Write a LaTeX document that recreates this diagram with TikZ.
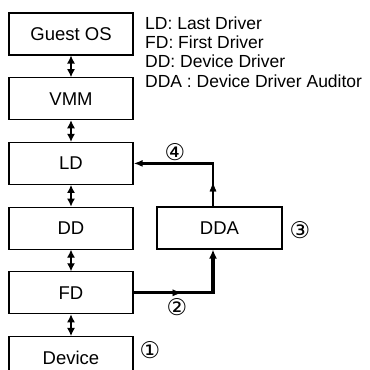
\documentclass[tikz,border=0pt]{standalone}
\usepackage{fontspec}
\setmainfont{Liberation Sans}
\newfontfamily\circfont{DejaVu Sans}
\usetikzlibrary{positioning,arrows.meta,decorations.markings}
\begin{document}
\begin{tikzpicture}[x=1pt,y=-1pt,node distance=21.6pt,
  layer/.style={draw,line width=1.1pt,minimum width=124pt,minimum height=42pt,font=\fontsize{18.5}{20}\selectfont},
  link/.style={{Latex[length=8pt,width=8pt]}-{Latex[length=8pt,width=8pt]},line width=1.2pt},
  midtip/.style={decoration={markings,mark=at position #1 with {\arrow{Latex[length=9pt,width=7pt]}}},decorate},
  key/.style={anchor=base west,inner sep=0pt,font=\fontsize{17.5}{19}\selectfont},
  num/.style={inner sep=0pt,font=\circfont\fontsize{23}{23}\selectfont}]
\useasboundingbox (0,0) rectangle (370,370);
% layer stack
\node[layer] (guest) at (71,34) {Guest OS};
\node[layer,below=of guest] (vmm) {VMM};
\node[layer,below=of vmm] (ld) {LD};
\node[layer,below=of ld] (dd) {DD};
\node[layer,below=of dd] (fd) {FD};
\node[layer,below=of fd] (dev) {Device};
\foreach \a/\b in {guest/vmm,vmm/ld,ld/dd,dd/fd,fd/dev} \draw[link] (\a) -- (\b);
\node[layer,minimum width=125pt] (dda) at (219.5,228) {DDA};
% legend
\foreach \t [count=\i] in {LD: Last Driver,FD: First Driver,DD: Device Driver,DDA : Device Driver Auditor}
  \node[key] (key\i) at (145,{10+19.3*\i}) {\t};
% audit path
\coordinate (rail) at (213,0);
\draw[line width=3.2pt,-{Latex[length=9pt,width=8pt]}] (fd.east) -- (fd.east -| rail) -- (dda.south -| rail);
\path[midtip=48pt] (fd.east) -- (fd.east -| rail);
\draw[line width=2.2pt,-{Latex[length=9pt,width=7pt]}] (dda.north -| rail) -- (ld.east -| rail) -- (ld.east);
\path[midtip=24pt] (dda.north -| rail) -- (ld.east -| rail);
\node[num] (n1) at (150,350) {①};
\node[num] (n2) at (177,307) {②};
\node[num] (n3) at (300,230) {③};
\node[num] (n4) at (175,152) {④};
\end{tikzpicture}
\end{document}
